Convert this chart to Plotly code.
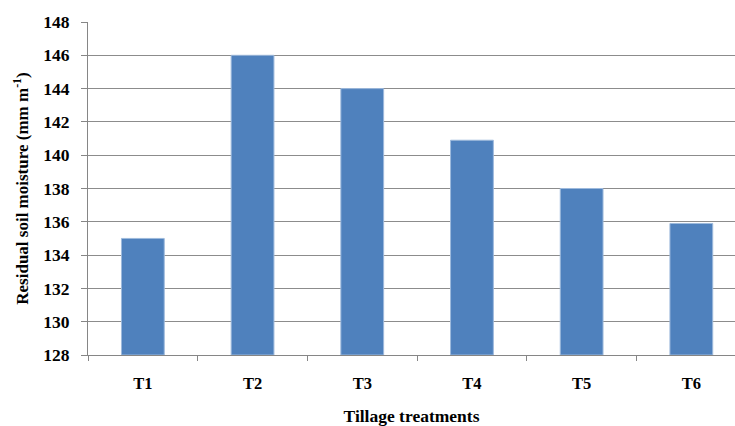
import plotly.graph_objects as go

treatments = ["T1", "T2", "T3", "T4", "T5", "T6"]
moisture = [135.0, 146.0, 144.0, 140.9, 138.0, 135.9]
y_ticks = [128, 130, 132, 134, 136, 138, 140, 142, 144, 146, 148]
y_floor = 128

FONT = "Liberation Serif"

fig = go.Figure(
    go.Bar(
        x=treatments,
        y=[v - y_floor for v in moisture],
        base=y_floor,
        width=0.39,
        marker=dict(color="#4F81BD", line=dict(color="#9DB9DC", width=1)),
        hoverinfo="skip",
    )
)

fig.update_layout(
    width=735,
    height=426,
    margin=dict(l=88, r=0, t=22, b=71),
    plot_bgcolor="white",
    paper_bgcolor="white",
    showlegend=False,
    font=dict(family=FONT, color="black"),
)

fig.update_xaxes(
    range=[-0.5, 5.398],
    automargin=False,
    tickson="boundaries",
    ticks="outside",
    ticklen=5,
    tickcolor="#868686",
    showline=True,
    linecolor="#868686",
    linewidth=1,
    showgrid=False,
    tickfont=dict(size=16.5, family=FONT, weight="bold"),
    ticklabelstandoff=13,
    title=dict(
        text="<b>Tillage treatments</b>",
        font=dict(size=17.5, family=FONT),
        standoff=24,
    ),
)

fig.update_yaxes(
    range=[128, 148],
    tickvals=y_ticks,
    ticks="outside",
    ticklen=6,
    tickcolor="#868686",
    showline=True,
    linecolor="#868686",
    linewidth=1,
    showgrid=True,
    gridcolor="#8C8C8C",
    gridwidth=1,
    zeroline=False,
    tickfont=dict(size=17.5, family=FONT, weight="bold"),
    ticklabelstandoff=8,
    title=dict(
        text="<b>Residual soil moisture (mm m<sup>-1</sup>)</b>",
        font=dict(size=17, family=FONT),
        standoff=10,
    ),
)

fig.write_html("out.html")
